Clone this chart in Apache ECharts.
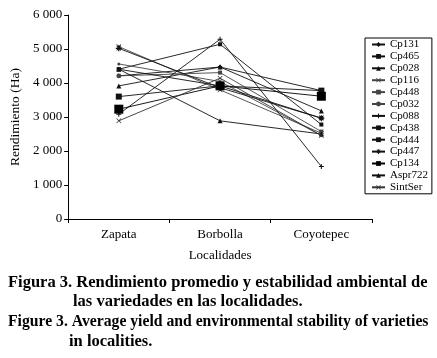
<!DOCTYPE html>
<html>
<head>
<meta charset="utf-8">
<script src="https://cdn.jsdelivr.net/npm/echarts@6/dist/echarts.min.js"></script>
<style>
  html, body { margin: 0; padding: 0; background: #fff; }
  #chart { width: 437px; height: 358px; }
</style>
</head>
<body>
<div id="chart"></div>
<script>
// localidades
const categories = ['Zapata', 'Borbolla', 'Coyotepec'];
const yTicks = [0, 1000, 2000, 3000, 4000, 5000, 6000];

// rendimiento por variedad (kg/ha)
const cp131 = [4210, 4470, 3776];
const cp465 = [4405, 5139, 2778];
const cp028 = [3915, 4470, 3180];
const cp116 = [5070, 3797, 2524];
const cp448 = [4210, 4306, 2572];
const cp032 = [4560, 4043, 2455];
const cp088 = [3083, 5286, 1545];
const cp438 = [4405, 3916, 2966];
const cp444 = [3600, 3916, 3776];
const cp447 = [5020, 3860, 2966];
const cp134 = [3230, 3916, 3611];
const aspr722 = [4405, 2887, 2500];
const sintSer = [2887, 4141, 2455];

const X_SYM = 'path://M0,1L1,0L5,4L9,0L10,1L6,5L10,9L9,10L5,6L1,10L0,9L4,5Z';
const PLUS_SYM = 'path://M4,0H6V4H10V6H6V10H4V6H0V4H4Z';
const STAR_SYM = 'path://M4,0H6V4H10V6H6V10H4V6H0V4H4Z M1,1L2,0L9,8L8,9Z M8,0L9,1L2,9L1,8Z';
const DASH_SYM = 'path://M0,4H10V6H0Z';

function serie(name, data, symbol, size, color) {
  return {
    name: name,
    type: 'line',
    data: data,
    symbol: symbol,
    symbolSize: size,
    showSymbol: true,
    lineStyle: { color: color, width: 0.9 },
    itemStyle: { color: color, borderWidth: 0 },
    emphasis: { disabled: true },
    animation: false
  };
}

const chart = echarts.init(document.getElementById('chart'), null, { renderer: 'canvas' });

const serif = 'Liberation Serif, Times New Roman, serif';

chart.setOption({
  animation: false,
  grid: { left: 60, right: 65, top: 15, bottom: 139, containLabel: false },
  legend: {
    orient: 'vertical',
    left: 365,
    top: 38,
    width: 63,
    padding: [1, 4, 1, 6],
    itemGap: 0.9,
    itemWidth: 13,
    itemHeight: 6,
    borderColor: '#000',
    borderWidth: 1,
    textStyle: { fontFamily: serif, fontSize: 11, lineHeight: 11, color: '#000', padding: [0, 0, 0, 0] },
    selectedMode: false,
    data: ['Cp131', 'Cp465', 'Cp028', 'Cp116', 'Cp448', 'Cp032', 'Cp088', 'Cp438', 'Cp444', 'Cp447', 'Cp134', 'Aspr722', 'SintSer']
  },
  xAxis: {
    type: 'category',
    data: categories,
    boundaryGap: true,
    name: 'Localidades',
    nameLocation: 'middle',
    nameGap: 30,
    nameTextStyle: { fontFamily: serif, fontSize: 13, color: '#000' },
    axisLine: { lineStyle: { color: '#000', width: 1 } },
    axisTick: { show: true, length: 4, lineStyle: { color: '#000' } },
    axisLabel: { fontFamily: serif, fontSize: 13, color: '#000', margin: 9 }
  },
  yAxis: {
    type: 'value',
    min: yTicks[0],
    max: yTicks[yTicks.length - 1],
    interval: 1000,
    name: 'Rendimiento (Ha)',
    nameLocation: 'middle',
    nameRotate: 90,
    nameGap: 40,
    nameTextStyle: { fontFamily: serif, fontSize: 13.5, color: '#000' },
    splitLine: { show: false },
    axisLine: { show: true, lineStyle: { color: '#000', width: 1 } },
    axisTick: { show: true, length: 4, lineStyle: { color: '#000' } },
    axisLabel: {
      fontFamily: serif, fontSize: 13, color: '#000', margin: 6,
      formatter: function (v) { return v >= 1000 ? Math.floor(v / 1000) + ' ' + String(v % 1000).padStart(3, '0') : String(v); }
    }
  },
  series: [
    serie('Cp131', cp131, 'diamond', 5, '#111'),
    serie('Cp465', cp465, 'rect', 4, '#111'),
    serie('Cp028', cp028, 'triangle', 5, '#111'),
    serie('Cp116', cp116, X_SYM, 5, '#444'),
    serie('Cp448', cp448, 'rect', 4, '#444'),
    serie('Cp032', cp032, 'circle', 3, '#444'),
    serie('Cp088', cp088, PLUS_SYM, 5, '#111'),
    serie('Cp438', cp438, DASH_SYM, 4, '#111'),
    serie('Cp444', cp444, DASH_SYM, 6, '#111'),
    serie('Cp447', cp447, STAR_SYM, 6, '#111'),
    serie('Cp134', cp134, 'rect', 9, '#000'),
    serie('Aspr722', aspr722, 'triangle', 5, '#111'),
    serie('SintSer', sintSer, X_SYM, 5, '#333')
  ],
  graphic: [
    { type: 'text', left: 8, top: 274, style: { text: 'Figura 3. Rendimiento promedio y estabilidad ambiental de', font: 'bold 16.5px ' + serif, fill: '#000' } },
    { type: 'text', left: 73, top: 293, style: { text: 'las variedades en las localidades.', font: 'bold 16.5px ' + serif, fill: '#000' } },
    { type: 'text', left: 8, top: 314, style: { text: 'Figure 3. Average yield and environmental stability of varieties', font: 'bold 15.7px ' + serif, fill: '#000' } },
    { type: 'text', left: 69, top: 333, style: { text: 'in localities.', font: 'bold 16.5px ' + serif, fill: '#000' } }
  ]
});
</script>
</body>
</html>
